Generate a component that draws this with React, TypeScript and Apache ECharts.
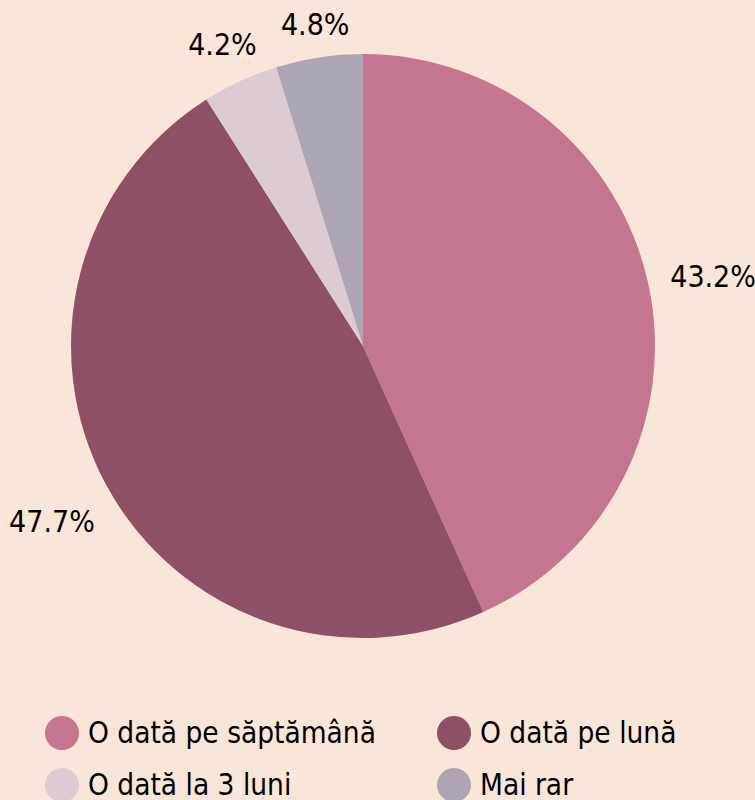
import React, { useEffect, useRef } from "react";
import * as echarts from "echarts";

const categories = ["O dată pe săptămână", "O dată pe lună", "O dată la 3 luni", "Mai rar"];
const values = [43.2, 47.7, 4.2, 4.8];
const colors = ["#C47590", "#8E5064", "#DCCBD3", "#ADA5B3"];
const leftLegend = [categories[0], categories[2]];
const rightLegend = [categories[1], categories[3]];

const FONT = "'DejaVu Sans Condensed', 'DejaVu Sans', sans-serif";
const CENTER = [363, 346];

export default function App() {
  const ref = useRef<HTMLDivElement>(null);
  useEffect(() => {
    document.body.style.margin = "0";
    const chart = echarts.init(ref.current!, null, { renderer: "svg" });
    const data = categories.map((name, i) => ({ name, value: values[i], itemStyle: { color: colors[i] } }));
    const legendCommon = {
      orient: "vertical" as const,
      top: 716,
      height: 200,
      padding: 0,
      icon: "circle",
      itemWidth: 34,
      itemHeight: 34,
      itemGap: 18,
      selectedMode: false,
      textStyle: { fontFamily: FONT, fontSize: 29.5, color: "#000", padding: [0, 0, 0, 4] },
    };
    chart.setOption({
      animation: false,
      backgroundColor: "#FAE6D8",
      legend: [
        { ...legendCommon, left: 45, data: leftLegend },
        { ...legendCommon, left: 437, data: rightLegend },
      ],
      series: [
        {
          type: "pie",
          center: CENTER,
          radius: [0, 292],
          startAngle: 90,
          clockwise: true,
          silent: true,
          label: { show: false },
          labelLine: { show: false },
          data,
        },
        {
          type: "pie",
          center: CENTER,
          radius: [300, 316],
          startAngle: 90,
          clockwise: true,
          silent: true,
          legendHoverLink: false,
          itemStyle: { color: "transparent" },
          label: {
            show: true,
            position: "inside",
            formatter: (p: any) => p.value.toFixed(1) + "%",
            fontFamily: FONT,
            fontSize: 30,
            color: "#000",
          },
          labelLine: { show: false },
          labelLayout: (p: any) => {
            const r = p.labelRect;
            const cx = r.x + r.width / 2;
            const cy = r.y + r.height / 2;
            const vx = cx - CENTER[0];
            const vy = cy - CENTER[1];
            const len = Math.sqrt(vx * vx + vy * vy) || 1;
            const dx = vx / len;
            const dy = vy / len;
            const ext = Math.abs(dx) * r.width / 2 + Math.abs(dy) * r.height / 2;
            return { x: cx + dx * ext + 2, y: cy + dy * ext + 6, align: "center", verticalAlign: "middle" };
          },
          data: categories.map((name, i) => ({ name: name + " ", value: values[i] })),
        },
      ],
    });
    return () => chart.dispose();
  }, []);
  return <div ref={ref} style={{ width: 755, height: 800 }} />;
}
